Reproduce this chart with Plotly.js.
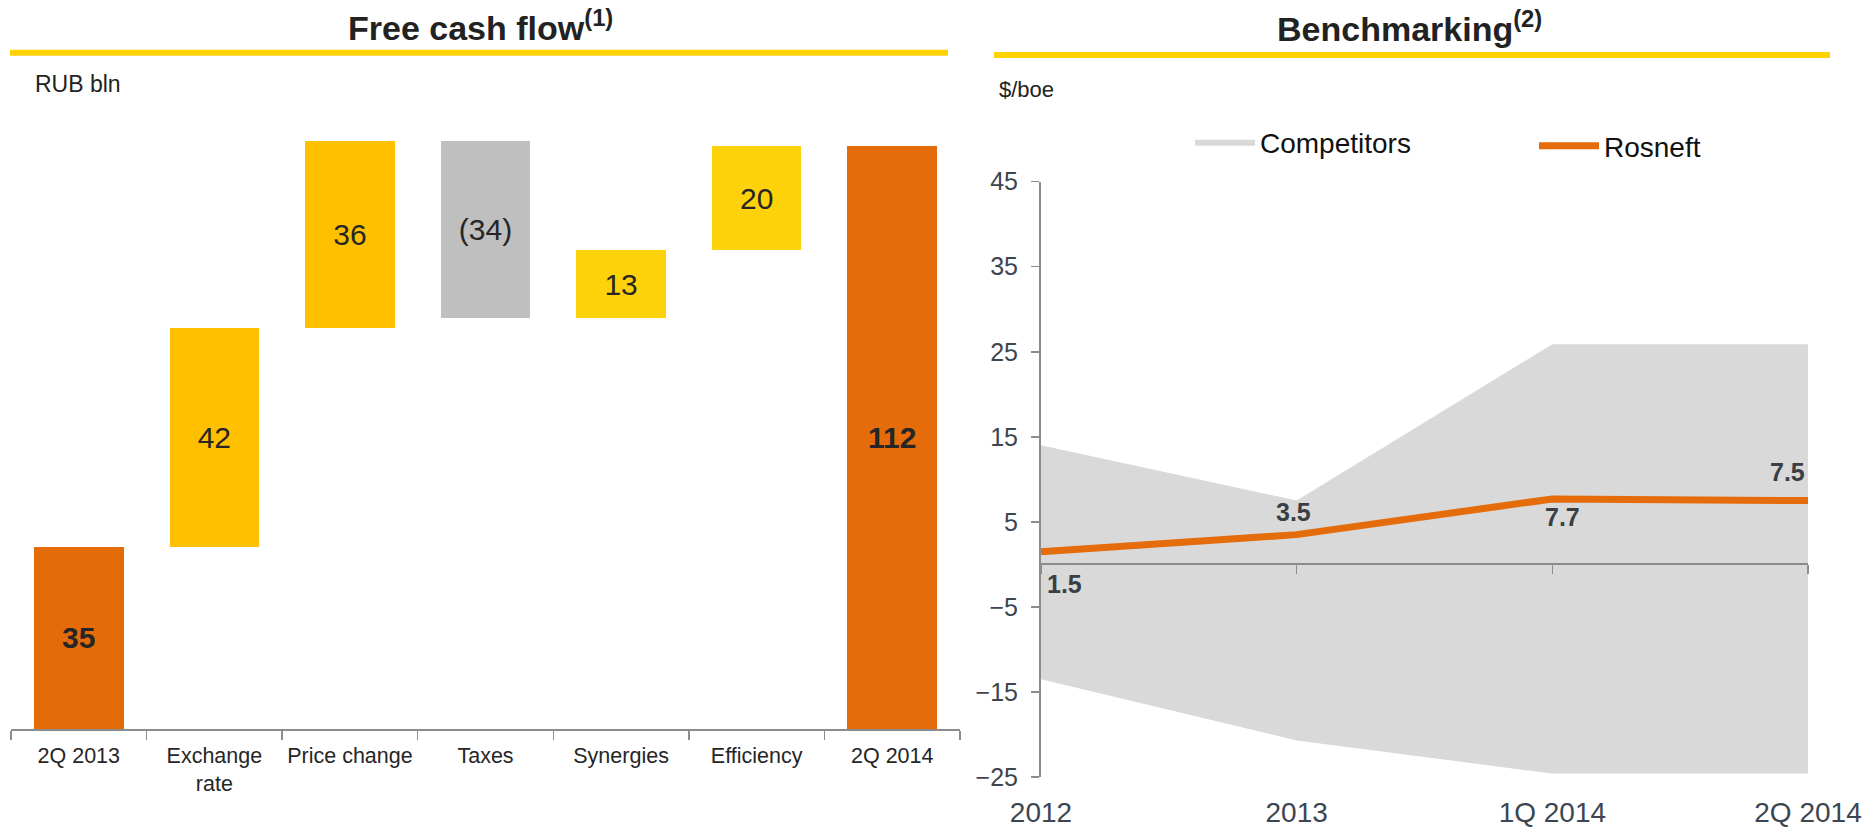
<!DOCTYPE html>
<html>
<head>
<meta charset="utf-8">
<script src="https://cdn.plot.ly/plotly-3.0.1.min.js"></script>
<style>
  html, body { margin: 0; padding: 0; background: #fff; }
  #chart { width: 1874px; height: 827px; }
</style>
</head>
<body>
<div id="chart"></div>
<script>
// ---------- Data ----------
const fcfCategories = ['2Q 2013', 'Exchange<br>rate', 'Price change', 'Taxes', 'Synergies', 'Efficiency', '2Q 2014'];
const fcfValues = [35, 42, 36, -34, 13, 20, 112];
const fcfMeasures = ['total', 'relative', 'relative', 'relative', 'relative', 'relative', 'total'];

const benchPeriods = ['2012', '2013', '1Q 2014', '2Q 2014'];
const competitorsHigh = [14, 7.5, 25.9, 25.9];
const competitorsLow = [-13.5, -20.7, -24.6, -24.6];
const rosneftValues = [1.5, 3.5, 7.7, 7.5];

// ---------- Styles ----------
const FONT = 'Liberation Sans, Arial, sans-serif';
const fcfColors = ['#E36C09', '#FFC000', '#FFC000', '#BFBFBF', '#FDD20B', '#FDD20B', '#E46C0A'];
const labelShifts = [[23, -32], [-3, 23], [10, -18], [-21, 29]]; // [xshift, yshift] px
const W = 1874, H = 827;
const px = v => v / W;
const py = v => 1 - v / H;

// ---------- Waterfall geometry from data ----------
let running = 0;
const bases = [], heights = [], texts = [];
fcfValues.forEach((v, i) => {
  if (fcfMeasures[i] === 'total') {
    bases.push(0); heights.push(v); running = v;
    texts.push('<b>' + v + '</b>');
  } else {
    if (v >= 0) { bases.push(running); heights.push(v); }
    else { bases.push(running + v); heights.push(-v); }
    running += v;
    texts.push(v < 0 ? '(' + Math.abs(v) + ')' : String(v));
  }
});

const traces = [
  {
    type: 'bar', x: fcfCategories, y: heights, base: bases,
    xaxis: 'x', yaxis: 'y', width: 0.66,
    marker: { color: fcfColors, line: { width: 0 } },
    text: texts, textposition: 'inside', insidetextanchor: 'middle',
    textangle: 0, constraintext: 'none',
    textfont: { family: FONT, size: 30, color: '#262626' },
    hoverinfo: 'skip', showlegend: false
  },
  {
    type: 'scatter', mode: 'lines', x: benchPeriods, y: competitorsLow,
    xaxis: 'x3', yaxis: 'y2', line: { width: 0, color: '#D9D9D9' },
    hoverinfo: 'skip', showlegend: false
  },
  {
    type: 'scatter', mode: 'lines', x: benchPeriods, y: competitorsHigh,
    xaxis: 'x3', yaxis: 'y2', fill: 'tonexty', fillcolor: '#D9D9D9',
    line: { width: 0, color: '#D9D9D9' }, name: 'Competitors',
    legend: 'legend', hoverinfo: 'skip'
  },
  {
    type: 'scatter', mode: 'lines', x: benchPeriods, y: rosneftValues,
    xaxis: 'x2', yaxis: 'y2', line: { width: 7, color: '#E46C0A' },
    name: 'Rosneft', legend: 'legend2', hoverinfo: 'skip'
  }
];

const yDom2 = [py(777), py(181.7)];
const yRange2 = [-25, 45];
const zeroPos = yDom2[0] + (0 - yRange2[0]) / (yRange2[1] - yRange2[0]) * (yDom2[1] - yDom2[0]);

const annotations = [
  { xref: 'paper', yref: 'paper', x: px(480), y: py(25), xanchor: 'center', yanchor: 'middle',
    text: '<b>Free cash flow<sup>(1)</sup></b>', showarrow: false,
    font: { family: FONT, size: 34, color: '#222' } },
  { xref: 'paper', yref: 'paper', x: px(1409), y: py(27), xanchor: 'center', yanchor: 'middle',
    text: '<b>Benchmarking<sup>(2)</sup></b>', showarrow: false,
    font: { family: FONT, size: 34, color: '#222' } },
  { xref: 'paper', yref: 'paper', x: px(33), y: py(84), xanchor: 'left', yanchor: 'middle',
    text: 'RUB bln', showarrow: false, font: { family: FONT, size: 23, color: '#222' } },
  { xref: 'paper', yref: 'paper', x: px(997), y: py(89), xanchor: 'left', yanchor: 'middle',
    text: '$/boe', showarrow: false, font: { family: FONT, size: 22, color: '#222' } }
];
rosneftValues.forEach((v, i) => {
  annotations.push({
    xref: 'x2', yref: 'y2', x: i, y: v, showarrow: false,
    xanchor: 'center', yanchor: 'middle',
    xshift: labelShifts[i][0], yshift: labelShifts[i][1],
    text: '<b>' + v + '</b>', font: { family: FONT, size: 25, color: '#3A3F45' }
  });
});

const layout = {
  width: W, height: H,
  margin: { l: 0, r: 0, t: 0, b: 0, pad: 0 },
  paper_bgcolor: '#fff', plot_bgcolor: 'rgba(0,0,0,0)',
  font: { family: FONT, color: '#222' },
  bargap: 0,
  xaxis: {
    domain: [px(11), px(960)], anchor: 'y', type: 'category', range: [-0.5, 6.5],
    showline: true, linecolor: '#8C8C8C', linewidth: 2,
    ticks: 'outside', tickson: 'boundaries', ticklen: 9, tickcolor: '#8C8C8C', tickwidth: 1.5,
    showgrid: false, zeroline: false, fixedrange: true, ticklabelstandoff: 6, tickangle: 0,
    tickfont: { family: FONT, size: 21.5, color: '#262626' }
  },
  yaxis: {
    domain: [py(729), py(104.5)], anchor: 'x', range: [0, 120], visible: false, fixedrange: true
  },
  xaxis3: {
    domain: [px(1041), px(1808)], anchor: 'y2', type: 'category', range: [0, 3],
    showline: false, ticks: '', showgrid: false, zeroline: false,
    ticklabelstandoff: 16, tickangle: 0,
    tickfont: { family: FONT, size: 28, color: '#3D4650' }
  },
  xaxis2: {
    domain: [px(1041), px(1808)], anchor: 'free', position: zeroPos, overlaying: 'x3',
    type: 'category', range: [0, 3],
    showline: true, linecolor: '#8C8C8C', linewidth: 2,
    ticks: 'outside', ticklen: 9, tickcolor: '#8C8C8C', tickwidth: 1.5,
    showticklabels: false, showgrid: false, zeroline: false
  },
  yaxis2: {
    domain: yDom2, anchor: 'x3', range: yRange2, tick0: -25, dtick: 10,
    showline: true, linecolor: '#8C8C8C', linewidth: 2,
    ticks: 'outside', ticklen: 8, tickcolor: '#8C8C8C', tickwidth: 1.5,
    showgrid: false, zeroline: false, ticklabelstandoff: 8,
    tickfont: { family: FONT, size: 25, color: '#3D4650' }
  },
  legend: {
    x: px(1190), y: py(142), xanchor: 'left', yanchor: 'middle',
    bgcolor: 'rgba(0,0,0,0)', itemwidth: 60,
    font: { family: FONT, size: 28, color: '#111' }
  },
  legend2: {
    x: px(1534), y: py(146), xanchor: 'left', yanchor: 'middle',
    bgcolor: 'rgba(0,0,0,0)', itemwidth: 60,
    font: { family: FONT, size: 28, color: '#111' }
  },
  shapes: [
    { type: 'line', xref: 'paper', yref: 'paper', x0: px(10), x1: px(948), y0: py(52.7), y1: py(52.7),
      line: { color: '#FFD200', width: 6 } },
    { type: 'line', xref: 'paper', yref: 'paper', x0: px(994), x1: px(1830), y0: py(55), y1: py(55),
      line: { color: '#FFD200', width: 6 } }
  ],
  annotations: annotations
};

Plotly.newPlot('chart', traces, layout, { staticPlot: true, displayModeBar: false });
</script>
</body>
</html>
